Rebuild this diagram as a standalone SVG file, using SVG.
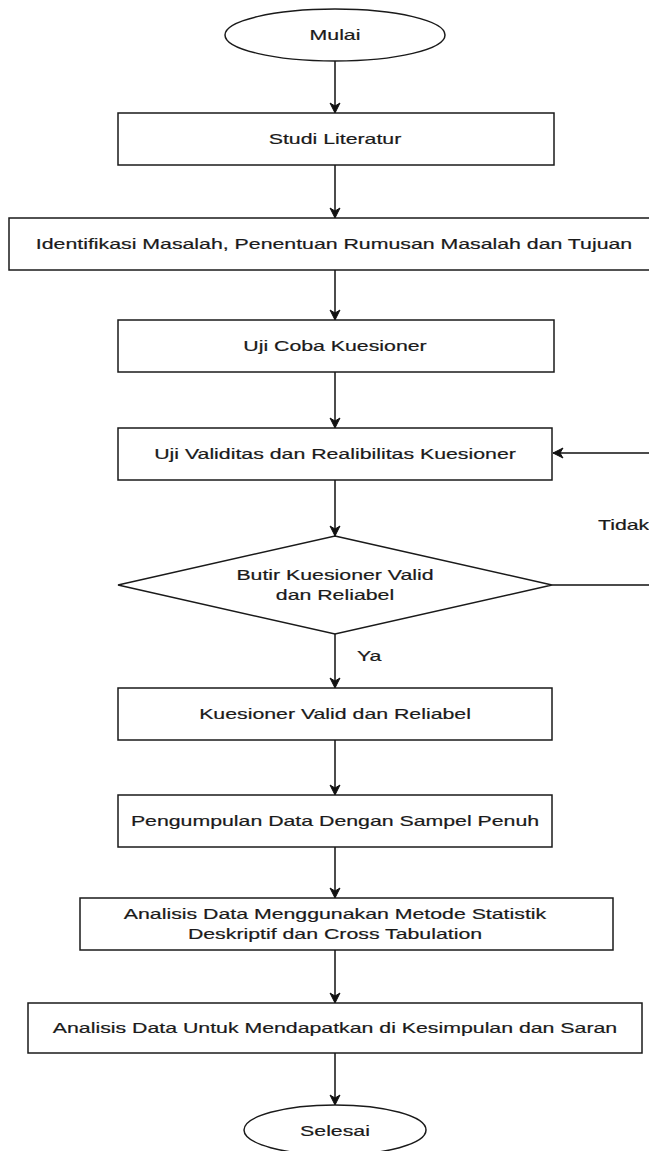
<svg xmlns="http://www.w3.org/2000/svg" width="649" height="1151" viewBox="0 0 649 1151">
<style>
.shape{fill:#fff;stroke:#1a1a1a;stroke-width:1.5}
.edge{fill:none;stroke:#111;stroke-width:1.5}
.t{font-family:"Liberation Sans",Arial,sans-serif;font-size:15px;fill:#1a1a1a;stroke:#1a1a1a;stroke-width:0.2;text-anchor:middle}
.ts{font-family:"Liberation Sans",Arial,sans-serif;font-size:15px;fill:#1a1a1a;stroke:#1a1a1a;stroke-width:0.2;text-anchor:start}
</style>
<defs>
<marker id="arr" markerUnits="userSpaceOnUse" markerWidth="12" markerHeight="12" viewBox="0 0 12 12" refX="11" refY="6" orient="auto">
<path d="M1,1 L11,6 L1,11 L4,6 z" fill="#111" stroke="#111" stroke-width="1"/>
</marker>
</defs>
<rect width="649" height="1151" fill="#fff"/>
<g id="connectors">
<path class="edge" d="M335,61 V113" marker-end="url(#arr)"/>
<path class="edge" d="M335,165 V218" marker-end="url(#arr)"/>
<path class="edge" d="M335,270 V320" marker-end="url(#arr)"/>
<path class="edge" d="M335,372 V428" marker-end="url(#arr)"/>
<path class="edge" d="M335,480 V536" marker-end="url(#arr)"/>
<path class="edge" d="M335,634 V688" marker-end="url(#arr)"/>
<path class="edge" d="M335,740 V795" marker-end="url(#arr)"/>
<path class="edge" d="M335,847 V898" marker-end="url(#arr)"/>
<path class="edge" d="M335,950 V1003" marker-end="url(#arr)"/>
<path class="edge" d="M335,1053 V1105" marker-end="url(#arr)"/>
<path class="edge" d="M552,585 H665 V453 H553" marker-end="url(#arr)"/>
<text class="ts" transform="translate(598,530) scale(1.42,1)">Tidak</text>
<text class="ts" transform="translate(357,661) scale(1.42,1)">Ya</text>
</g>
<g id="mulai">
<ellipse class="shape" cx="335" cy="35" rx="110" ry="26"/>
<text class="t" transform="translate(335,40) scale(1.42,1)">Mulai</text>
</g>
<g id="studi">
<rect class="shape" x="118" y="113" width="436" height="52"/>
<text class="t" transform="translate(335,144) scale(1.42,1)">Studi Literatur</text>
</g>
<g id="identifikasi">
<rect class="shape" x="9" y="218" width="652" height="52"/>
<text class="t" transform="translate(334,249) scale(1.42,1)">Identifikasi Masalah, Penentuan Rumusan Masalah dan Tujuan</text>
</g>
<g id="ujicoba">
<rect class="shape" x="118" y="320" width="436" height="52"/>
<text class="t" transform="translate(335,351) scale(1.42,1)">Uji Coba Kuesioner</text>
</g>
<g id="validitas">
<rect class="shape" x="118" y="428" width="434" height="52"/>
<text class="t" transform="translate(335,459) scale(1.42,1)">Uji Validitas dan Realibilitas Kuesioner</text>
</g>
<g id="butir">
<polygon class="shape" points="335,536 552,585 335,634 118,585"/>
<text class="t" transform="translate(335,580) scale(1.42,1)">Butir Kuesioner Valid</text>
<text class="t" transform="translate(335,600) scale(1.42,1)">dan Reliabel</text>
</g>
<g id="valid">
<rect class="shape" x="118" y="688" width="434" height="52"/>
<text class="t" transform="translate(335,719) scale(1.42,1)">Kuesioner Valid dan Reliabel</text>
</g>
<g id="pengumpulan">
<rect class="shape" x="118" y="795" width="434" height="52"/>
<text class="t" transform="translate(335,826) scale(1.42,1)">Pengumpulan Data Dengan Sampel Penuh</text>
</g>
<g id="analisis1">
<rect class="shape" x="80" y="898" width="533" height="52"/>
<text class="t" transform="translate(335,919) scale(1.42,1)">Analisis Data Menggunakan Metode Statistik</text>
<text class="t" transform="translate(335,939) scale(1.42,1)">Deskriptif dan Cross Tabulation</text>
</g>
<g id="analisis2">
<rect class="shape" x="28" y="1003" width="614" height="50"/>
<text class="t" transform="translate(335,1033) scale(1.42,1)">Analisis Data Untuk Mendapatkan di Kesimpulan dan Saran</text>
</g>
<g id="selesai">
<ellipse class="shape" cx="335" cy="1130" rx="91" ry="25"/>
<text class="t" transform="translate(335,1136) scale(1.42,1)">Selesai</text>
</g>
</svg>
